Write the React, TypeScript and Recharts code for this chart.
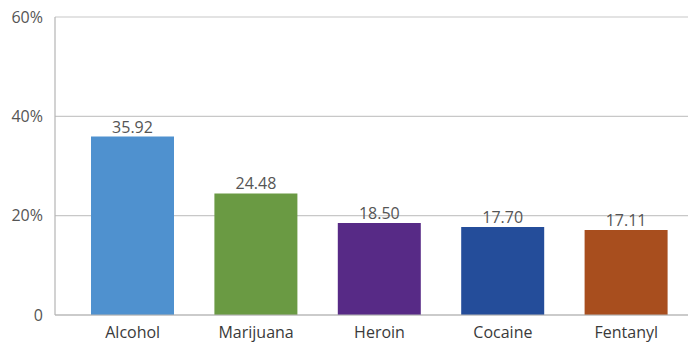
import React from 'react';
import { BarChart, Bar, XAxis, YAxis, CartesianGrid, Cell, LabelList } from 'recharts';

const SUBSTANCES = ['Alcohol', 'Marijuana', 'Heroin', 'Cocaine', 'Fentanyl'];
const SHARES = [35.92, 24.48, 18.5, 17.7, 17.11];
const BAR_COLORS = ['#4f91cf', '#6a9a43', '#572a86', '#244d9a', '#a84e1e'];
const Y_TICKS = [0, 20, 40, 60];

const data = SUBSTANCES.map((name, i) => ({ name, value: SHARES[i] }));

const FONT = '"Open Sans", Lato, sans-serif';

const App: React.FC = () => {
  return (
    <div style={{ position: 'absolute', top: 0, left: 0, width: 697, height: 348, background: '#fff' }}>
      <BarChart width={697} height={348} data={data} margin={{ top: 17, right: 9, bottom: 0, left: 0 }}>
        <CartesianGrid vertical={false} stroke="#c8c8c8" strokeWidth={1.2} />
        <XAxis
          dataKey="name"
          height={33}
          padding={{ left: 16, right: 0 }}
          tickLine={false}
          axisLine={{ stroke: '#b4b4b4', strokeWidth: 1.2 }}
          tick={{ fill: '#3a3a3a', fontSize: 16, fontFamily: FONT }}
          tickMargin={6}
        />
        <YAxis
          width={55}
          domain={[0, 60]}
          ticks={Y_TICKS}
          tickFormatter={(v: number) => (v === 0 ? '0' : `${v}%`)}
          tickLine={false}
          axisLine={{ stroke: '#b4b4b4', strokeWidth: 1.2 }}
          tick={{ fill: '#555', fontSize: 16, fontFamily: FONT }}
          tickMargin={6}
        />
        <Bar dataKey="value" barSize={83} isAnimationActive={false}>
          {data.map((entry, index) => (
            <Cell key={`cell-${index}`} fill={BAR_COLORS[index]} />
          ))}
          <LabelList
            dataKey="value"
            position="top"
            offset={4}
            formatter={(v: number) => v.toFixed(2)}
            style={{ fill: '#555', fontSize: 16, fontFamily: FONT }}
          />
        </Bar>
      </BarChart>
    </div>
  );
};

export default App;
